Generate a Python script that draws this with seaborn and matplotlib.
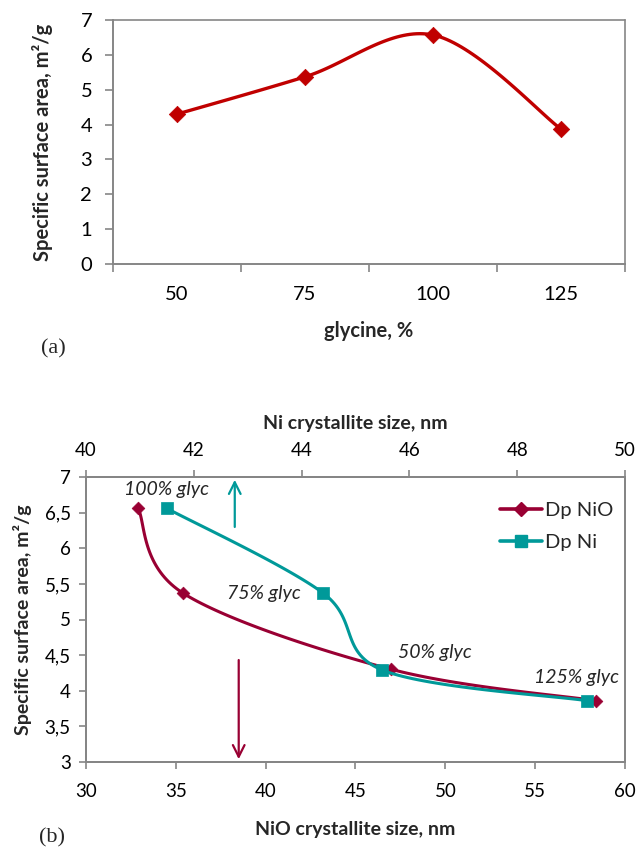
import numpy as np
import pandas as pd
import matplotlib
matplotlib.use("Agg")
import matplotlib.pyplot as plt
from matplotlib.lines import Line2D
import seaborn as sns

# ---- data ----
glycine_labels = ["50", "75", "100", "125"]
ssa_by_glycine = [4.30, 5.37, 6.57, 3.87]

ssa_points = [6.56, 5.37, 4.30, 3.86]          # 100, 75, 50, 125 % glycine
nio_size = [32.9, 35.4, 47.0, 58.4]
ni_size = [41.5, 44.4, 45.5, 49.3]
ni_ssa = [6.56, 5.37, 4.29, 3.86]
point_labels = ["100% glyc", "75% glyc", "50% glyc", "125% glyc"]
label_x = [34.5, 39.9, 49.4, 57.3]
label_y = [6.82, 5.37, 4.54, 4.19]

RED = "#C00000"
NIO = "#990033"
NI = "#009999"
GREY = "#868686"

sns.set_theme(style="white")
plt.rcParams["font.family"] = ["Lato", "DejaVu Sans"]
plt.rcParams["axes.edgecolor"] = GREY
plt.rcParams["xtick.color"] = GREY
plt.rcParams["ytick.color"] = GREY
plt.rcParams["xtick.labelcolor"] = "black"
plt.rcParams["ytick.labelcolor"] = "black"


def smooth_curve(ax, xs, ys, n=40):
    """Bezier smoothing through the points, done in display space."""
    ax.figure.canvas.draw()
    pts = ax.transData.transform(np.column_stack([xs, ys]))
    P = np.vstack([pts[0], pts, pts[-1]])
    out = []
    for i in range(1, len(P) - 2):
        p0, p1 = P[i], P[i + 1]
        c1 = p0 + (P[i + 1] - P[i - 1]) / 6.0
        c2 = p1 - (P[i + 2] - P[i]) / 6.0
        t = np.linspace(0, 1, n)[:, None]
        seg = ((1 - t) ** 3) * p0 + 3 * ((1 - t) ** 2) * t * c1 + 3 * (1 - t) * t ** 2 * c2 + t ** 3 * p1
        out.append(seg if i == 1 else seg[1:])
    data = ax.transData.inverted().transform(np.vstack(out))
    return data[:, 0], data[:, 1]


fig = plt.figure(figsize=(6.37, 8.5), dpi=100)

# ---------------- (a) ----------------
ax1 = fig.add_axes([113 / 637, 1 - 264 / 850, 512 / 637, 244 / 850])
pos = np.arange(len(glycine_labels))
ax1.set_xlim(-0.5, len(glycine_labels) - 0.5)
ax1.set_ylim(0, 7)
sx, sy = smooth_curve(ax1, pos, ssa_by_glycine)
sns.lineplot(x=sx, y=sy, sort=False, estimator=None, color=RED, lw=2.4, ax=ax1)
sns.scatterplot(x=pos, y=ssa_by_glycine, marker="D", s=70, color=RED,
                edgecolor=RED, linewidth=0.5, ax=ax1, zorder=5)

ax1.set_xticks(np.arange(-0.5, len(glycine_labels)))
ax1.set_xticklabels([])
ax1.set_xticks(pos, minor=True)
ax1.set_xticklabels(glycine_labels, minor=True, fontsize=14.5)
ax1.tick_params(axis="x", which="minor", length=0, pad=16)
ax1.tick_params(axis="x", which="major", direction="out", length=6, width=1.2, bottom=True)
ax1.set_yticks(range(0, 8))
ax1.tick_params(axis="y", direction="out", length=6, width=1.2, left=True, labelsize=14.5, pad=9)
for side in ("left", "bottom"):
    ax1.spines[side].set_linewidth(1.4)
    ax1.spines[side].set_color(GREY)
for side in ("top", "right"):
    ax1.spines[side].set_linestyle((0, (1, 1)))
    ax1.spines[side].set_linewidth(1.2)
    ax1.spines[side].set_color(GREY)
ax1.set_xlabel("glycine, %", fontsize=14.5, fontweight="bold")
ax1.set_ylabel("Specific surface area, m²/g", fontsize=14.5, fontweight="bold")
ax1.xaxis.set_label_coords(0.5, (264 - 331) / 244, transform=ax1.transAxes)
ax1.yaxis.set_label_coords((43 - 113) / 512, 0.5, transform=ax1.transAxes)
for lab in (ax1.xaxis.label, ax1.yaxis.label):
    lab.set_verticalalignment("center")
fig.text(53 / 637, 1 - 349 / 850, "(a)", fontsize=16, family="Liberation Serif",
         ha="center", va="center")

# ---------------- (b) ----------------
ax2 = fig.add_axes([86 / 637, 1 - 762 / 850, 539 / 637, 285 / 850])
ax2.set_xlim(30, 60)
ax2.set_ylim(3, 7)
axt = ax2.twiny()
axt.set_xlim(40, 50)

nx, ny = smooth_curve(ax2, nio_size, ssa_points)
sns.lineplot(x=nx, y=ny, sort=False, estimator=None, color=NIO, lw=2.2, ax=ax2, zorder=3)
sns.scatterplot(x=nio_size, y=ssa_points, marker="D", s=42, color=NIO,
                edgecolor=NIO, linewidth=0.5, ax=ax2, zorder=4)

tx, ty = smooth_curve(axt, ni_size, ni_ssa)
sns.lineplot(x=tx, y=ty, sort=False, estimator=None, color=NI, lw=2.2, ax=axt, zorder=3)
sns.scatterplot(x=ni_size, y=ni_ssa, marker="s", s=85, color=NI,
                edgecolor=NI, linewidth=0.5, ax=axt, zorder=5)

ax2.set_xticks(range(30, 61, 5))
yt = np.arange(3, 7.01, 0.5)
ax2.set_yticks(yt)
ax2.set_yticklabels([f"{v:g}".replace(".", ",") for v in yt])
ax2.tick_params(axis="x", direction="out", length=5, width=1.2, bottom=True, labelsize=13.5, pad=10)
ax2.tick_params(axis="y", direction="out", length=5, width=1.2, left=True, labelsize=13.5, pad=6)
axt.set_xticks(range(40, 51, 2))
axt.tick_params(axis="x", direction="out", length=5, width=1.2, top=True, labelsize=13.5, pad=8)
for a in (ax2, axt):
    for side in a.spines:
        a.spines[side].set_linewidth(1.4)
        a.spines[side].set_color(GREY)

ax2.set_xlabel("NiO crystallite size, nm", fontsize=14, fontweight="bold")
axt.set_xlabel("Ni crystallite size, nm", fontsize=14, fontweight="bold")
ax2.set_ylabel("Specific surface area, m²/g", fontsize=14, fontweight="bold")
ax2.xaxis.set_label_coords(0.5, (762 - 830) / 285, transform=ax2.transAxes)
axt.xaxis.set_label_coords(0.5, 1 + (477 - 423) / 285, transform=axt.transAxes)
ax2.yaxis.set_label_coords((23 - 86) / 539, 0.5, transform=ax2.transAxes)
for lab in (ax2.xaxis.label, axt.xaxis.label, ax2.yaxis.label):
    lab.set_verticalalignment("center")

for txt, lx, ly in zip(point_labels, label_x, label_y):
    ax2.text(lx, ly, txt, fontsize=14, style="italic", ha="center", va="center", zorder=6)

# direction arrows pointing to the relevant axis
axt.annotate("", xy=(42.76, 7.0), xytext=(42.76, 6.26),
             arrowprops=dict(arrowstyle="->,head_length=0.7,head_width=0.35", color=NI, lw=1.6),
             annotation_clip=False)
ax2.annotate("", xy=(38.5, 3.0), xytext=(38.5, 4.47),
             arrowprops=dict(arrowstyle="->,head_length=0.7,head_width=0.35", color=NIO, lw=1.6),
             annotation_clip=False)

handles = [Line2D([], [], color=NIO, lw=2.6, marker="D", markersize=7.5),
           Line2D([], [], color=NI, lw=2.6, marker="s", markersize=9)]
ax2.legend(handles, ["Dp NiO", "Dp Ni"], loc="upper left",
           bbox_to_anchor=((500 - 86) / 539, (762 - 502) / 285),
           frameon=False, fontsize=14.5, handlelength=2.1, handletextpad=0.15,
           labelspacing=0.75, borderpad=0, borderaxespad=0)

fig.text(52 / 637, 1 - 838 / 850, "(b)", fontsize=16, family="Liberation Serif",
         ha="center", va="center")

fig.savefig("out.png", dpi=100)
